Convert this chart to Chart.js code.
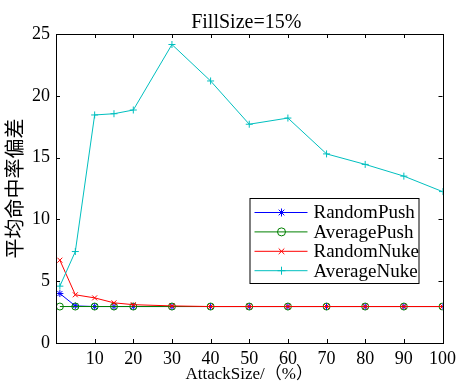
<!DOCTYPE html>
<html>
<head>
<meta charset="utf-8">
<script src="https://cdn.jsdelivr.net/npm/chart.js@4/dist/chart.umd.min.js"></script>
<style>
  html, body { margin: 0; padding: 0; background: #fff; }
  canvas { display: block; }
</style>
</head>
<body>
<canvas id="chart" width="461" height="385"></canvas>
<script>
  const attackSize = [1, 5, 10, 15, 20, 30, 40, 50, 60, 70, 80, 90, 100];
  const randomPush = [4.0, 3.0, 2.95, 2.95, 2.95, 2.95, 2.95, 2.95, 2.95, 2.95, 2.95, 2.95, 2.95];
  const averagePush = [2.95, 2.95, 2.95, 2.95, 2.95, 2.95, 2.95, 2.95, 2.95, 2.95, 2.95, 2.95, 2.95];
  const randomNuke = [6.7, 3.9, 3.65, 3.25, 3.1, 3.0, 2.95, 2.95, 2.95, 2.95, 2.95, 2.95, 2.95];
  const averageNuke = [4.6, 7.4, 18.45, 18.55, 18.85, 24.15, 21.2, 17.7, 18.2, 15.3, 14.45, 13.5, 12.25];
  const xTicks = [10, 20, 30, 40, 50, 60, 70, 80, 90, 100];
  const yTicks = [0, 5, 10, 15, 20, 25];
  const chartTitle = 'FillSize=15%';

  const serif = '"Liberation Serif", "Noto Sans CJK SC", serif';

  const pts = ys => ys.map((y, i) => ({ x: attackSize[i], y }));

  // later series drawn on top, like plot() with hold on
  function series(label, data, color, style, order) {
    return {
      label, data: pts(data), order,
      borderColor: color, borderWidth: 1,
      pointStyle: style, pointRadius: 3.5, pointBorderWidth: 1,
      pointBorderColor: color, pointBackgroundColor: 'rgba(0,0,0,0)',
      tension: 0
    };
  }

  // MATLAB style box, inward ticks, title over the axes and the in-plot legend
  const frame = {
    id: 'frame',
    afterDatasetsDraw(chart) {
      const { ctx, chartArea: a, scales: { x, y } } = chart;
      ctx.save();
      ctx.strokeStyle = '#000';
      ctx.lineWidth = 1;
      ctx.beginPath();
      xTicks.forEach(v => {
        const px = Math.round(x.getPixelForValue(v)) + 0.5;
        ctx.moveTo(px, a.bottom); ctx.lineTo(px, a.bottom - 4);
        ctx.moveTo(px, a.top); ctx.lineTo(px, a.top + 4);
      });
      yTicks.forEach(v => {
        const py = Math.round(y.getPixelForValue(v)) + 0.5;
        ctx.moveTo(a.left, py); ctx.lineTo(a.left + 4, py);
        ctx.moveTo(a.right, py); ctx.lineTo(a.right - 4, py);
      });
      ctx.stroke();
      ctx.strokeRect(Math.round(a.left) + 0.5, Math.round(a.top) + 0.5,
        Math.round(a.right - a.left), Math.round(a.bottom - a.top));

      ctx.fillStyle = '#000';
      ctx.font = '20px ' + serif;
      ctx.textAlign = 'center';
      ctx.textBaseline = 'alphabetic';
      ctx.fillText(chartTitle, (a.left + a.right) / 2 - 3, a.top - 6);

      // legend
      const lx = a.right - 193, ly = a.bottom - 145, lw = 169, lh = 85;
      ctx.fillStyle = '#fff';
      ctx.fillRect(lx, ly, lw, lh);
      ctx.strokeStyle = '#000';
      ctx.strokeRect(lx + 0.5, ly + 0.5, lw, lh);
      ctx.font = '19px ' + serif;
      ctx.textAlign = 'left';
      ctx.textBaseline = 'middle';
      chart.data.datasets.forEach((ds, i) => {
        const ry = ly + 14.5 + i * 19.4;
        ctx.strokeStyle = ds.borderColor;
        ctx.beginPath();
        ctx.moveTo(lx + 5, ry); ctx.lineTo(lx + 58, ry);
        ctx.stroke();
        ctx.fillStyle = 'rgba(0,0,0,0)';
        Chart.helpers.drawPoint(ctx, { pointStyle: ds.pointStyle, radius: 4, borderWidth: 1 }, lx + 32, ry);
        ctx.fillStyle = '#000';
        ctx.fillText(ds.label, lx + 64, ry + 1);
      });
      ctx.restore();
    }
  };

  new Chart(document.getElementById('chart'), {
    type: 'line',
    data: {
      datasets: [
        series('RandomPush', randomPush, '#0000ff', 'star', 3),
        series('AveragePush', averagePush, '#008000', 'circle', 2),
        series('RandomNuke', randomNuke, '#ff0000', 'crossRot', 1),
        series('AverageNuke', averageNuke, '#00bfbf', 'cross', 0)
      ]
    },
    options: {
      responsive: false,
      animation: false,
      layout: { padding: { left: 0, right: 15, top: 34, bottom: 0 } },
      plugins: {
        legend: { display: false },
        tooltip: { enabled: false }
      },
      scales: {
        x: {
          type: 'linear', min: 0, max: 100,
          grid: { display: false, drawTicks: false },
          border: { display: false },
          afterBuildTicks: s => { s.ticks = xTicks.map(v => ({ value: v })); },
          afterFit: s => { s.height = 42; },
          ticks: { color: '#000', padding: 5, maxRotation: 0, font: { family: serif, size: 18 } },
          title: {
            display: true, text: 'AttackSize/（%）', color: '#000',
            font: { family: serif, size: 17 }, padding: { top: 0, bottom: 0 }
          }
        },
        y: {
          min: 0, max: 25,
          grid: { display: false, drawTicks: false },
          border: { display: false },
          afterBuildTicks: s => { s.ticks = yTicks.map(v => ({ value: v })); },
          afterFit: s => { s.width = 56; },
          ticks: { color: '#000', padding: 6, font: { family: serif, size: 18 } },
          title: {
            display: true, text: '平均命中率偏差', color: '#000',
            font: { family: serif, size: 20 }, padding: { top: 5, bottom: 0 }
          }
        }
      }
    },
    plugins: [frame]
  });
</script>
</body>
</html>
